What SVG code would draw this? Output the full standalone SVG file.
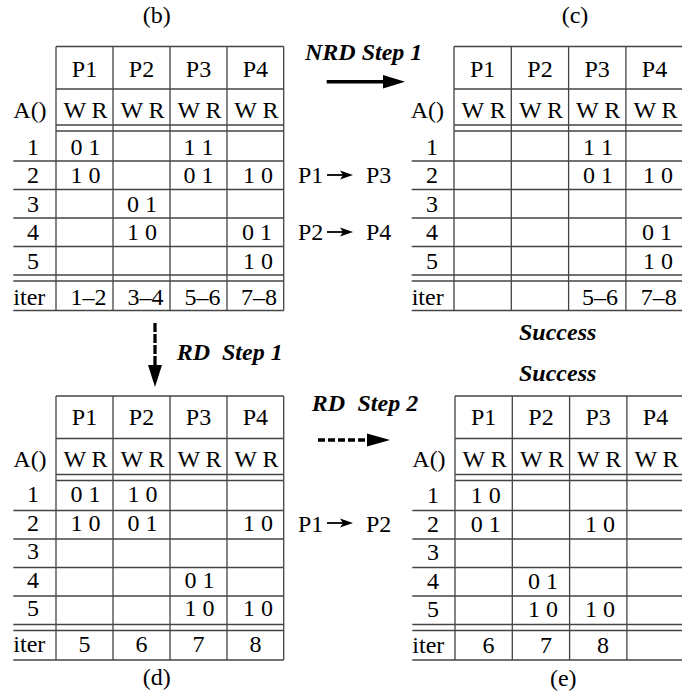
<svg xmlns="http://www.w3.org/2000/svg" width="682" height="698" viewBox="0 0 682 698">
<style>
text{font-family:"Liberation Serif","Times New Roman",serif;font-size:24px;fill:#000}
.c{text-anchor:middle}
.e{text-anchor:end}
.bi{font-weight:bold;font-style:italic}
.ln{stroke:#444;stroke-width:1.3;fill:none}
.ar{stroke:#000;fill:none}
</style>
<rect width="682" height="698" fill="#fff"/>
<g id="table-b">
<path class="ln" d="M56 46.5H283.7M56 89H283.7M56 125H283.7M56 131H283.7M13.3 161H283.7M13.3 189.5H283.7M13.3 218H283.7M13.3 246.5H283.7M13.3 275H283.7M13.3 281H283.7M13.3 310.5H283.7M56 46.5V310.5M113 46.5V310.5M170 46.5V310.5M227 46.5V310.5M283.7 46.5V310.5"/>
<text class="c" x="156.7" y="23">(b)</text>
<text class="c" x="84.5" y="76.5">P1</text><text class="c" x="141.5" y="76.5">P2</text><text class="c" x="198.5" y="76.5">P3</text><text class="c" x="255.4" y="76.5">P4</text>
<text x="13.3" y="117.5">A()</text>
<text class="c" x="85.5" y="117.5">W R</text><text class="c" x="142.5" y="117.5">W R</text><text class="c" x="199.5" y="117.5">W R</text><text class="c" x="256.4" y="117.5">W R</text>
<text class="c" x="33" y="154.5">1</text><text class="c" x="33" y="183">2</text><text class="c" x="33" y="211.5">3</text><text class="c" x="33" y="240">4</text><text class="c" x="33" y="268.5">5</text>
<text x="13.3" y="304.5">iter</text>
<text class="c" x="85.5" y="154.5">0 1</text><text class="c" x="198.5" y="154.5">1 1</text>
<text class="c" x="85.5" y="183">1 0</text><text class="c" x="198.5" y="183">0 1</text><text class="c" x="258" y="183">1 0</text>
<text class="c" x="142" y="211.5">0 1</text>
<text class="c" x="142" y="240">1 0</text><text class="c" x="257" y="240">0 1</text>
<text class="c" x="258" y="268.5">1 0</text>
<text class="e" x="106.5" y="304.5">1–2</text><text class="e" x="163.5" y="304.5">3–4</text><text class="e" x="220.5" y="304.5">5–6</text><text class="e" x="277" y="304.5">7–8</text>
</g>
<g id="table-c">
<path class="ln" d="M454 46.5H683.2M454 89H683.2M454 125H683.2M454 131H683.2M411.7 161H683.2M411.7 189.5H683.2M411.7 218H683.2M411.7 246.5H683.2M411.7 275H683.2M411.7 281H683.2M411.7 310.5H683.2M454 46.5V310.5M511.3 46.5V310.5M568.6 46.5V310.5M625.9 46.5V310.5M683.2 46.5V310.5"/>
<text class="c" x="575" y="23">(c)</text>
<text class="c" x="482.6" y="76.5">P1</text><text class="c" x="540" y="76.5">P2</text><text class="c" x="597.2" y="76.5">P3</text><text class="c" x="654.5" y="76.5">P4</text>
<text x="410.7" y="117.5">A()</text>
<text class="c" x="483.6" y="117.5">W R</text><text class="c" x="541" y="117.5">W R</text><text class="c" x="598.2" y="117.5">W R</text><text class="c" x="655.5" y="117.5">W R</text>
<text class="c" x="432" y="154.5">1</text><text class="c" x="432" y="183">2</text><text class="c" x="432" y="211.5">3</text><text class="c" x="432" y="240">4</text><text class="c" x="432" y="268.5">5</text>
<text x="411.7" y="304.5">iter</text>
<text class="c" x="598" y="154.5">1 1</text>
<text class="c" x="598" y="183">0 1</text><text class="c" x="658" y="183">1 0</text>
<text class="c" x="657" y="240">0 1</text>
<text class="c" x="658" y="268.5">1 0</text>
<text class="e" x="618" y="304.5">5–6</text><text class="e" x="676.7" y="304.5">7–8</text>
<text class="c bi" x="557.7" y="340">Success</text>
</g>
<g id="table-d">
<path class="ln" d="M56 396H283.7M56 438.5H283.7M56 474.5H283.7M56 480.5H283.7M13.3 510.5H283.7M13.3 539H283.7M13.3 567.5H283.7M13.3 596H283.7M13.3 624.5H283.7M13.3 630.5H283.7M13.3 660H283.7M56 396V660M113 396V660M170 396V660M227 396V660M283.7 396V660"/>
<text class="c" x="156.7" y="685">(d)</text>
<text class="c" x="84.5" y="425">P1</text><text class="c" x="141.5" y="425">P2</text><text class="c" x="198.5" y="425">P3</text><text class="c" x="255.4" y="425">P4</text>
<text x="13.3" y="467">A()</text>
<text class="c" x="85.5" y="467">W R</text><text class="c" x="142.5" y="467">W R</text><text class="c" x="199.5" y="467">W R</text><text class="c" x="256.4" y="467">W R</text>
<text class="c" x="33" y="502">1</text><text class="c" x="33" y="530.5">2</text><text class="c" x="33" y="559">3</text><text class="c" x="33" y="587.5">4</text><text class="c" x="33" y="616">5</text>
<text x="13.3" y="652">iter</text>
<text class="c" x="85.5" y="502">0 1</text><text class="c" x="142.5" y="502">1 0</text>
<text class="c" x="85.5" y="530.5">1 0</text><text class="c" x="142.5" y="530.5">0 1</text><text class="c" x="258" y="530.5">1 0</text>
<text class="c" x="199.5" y="587.5">0 1</text>
<text class="c" x="199.5" y="616">1 0</text><text class="c" x="258" y="616">1 0</text>
<text class="c" x="84.5" y="652">5</text><text class="c" x="141.5" y="652">6</text><text class="c" x="198.5" y="652">7</text><text class="c" x="255.4" y="652">8</text>
</g>
<g id="table-e">
<path class="ln" d="M455 396H684.2M455 438.5H684.2M455 474.5H684.2M455 480.5H684.2M412.3 510.5H684.2M412.3 539H684.2M412.3 567.5H684.2M412.3 596H684.2M412.3 624.5H684.2M412.3 630.5H684.2M412.3 660H684.2M455 396V660M512.3 396V660M569.6 396V660M626.9 396V660M684.2 396V660"/>
<text class="c" x="563.3" y="686">(e)</text>
<text class="c bi" x="557.7" y="381">Success</text>
<text class="c" x="483.6" y="425">P1</text><text class="c" x="541" y="425">P2</text><text class="c" x="598.2" y="425">P3</text><text class="c" x="655.5" y="425">P4</text>
<text x="412.3" y="467">A()</text>
<text class="c" x="484.6" y="467">W R</text><text class="c" x="542" y="467">W R</text><text class="c" x="599.2" y="467">W R</text><text class="c" x="656.5" y="467">W R</text>
<text class="c" x="433" y="503">1</text><text class="c" x="433" y="531.5">2</text><text class="c" x="433" y="560">3</text><text class="c" x="433" y="588.5">4</text><text class="c" x="433" y="617">5</text>
<text x="412.3" y="653">iter</text>
<text class="c" x="485.8" y="503">1 0</text>
<text class="c" x="485.8" y="531.5">0 1</text><text class="c" x="600" y="531.5">1 0</text>
<text class="c" x="543" y="588.5">0 1</text>
<text class="c" x="543" y="617">1 0</text><text class="c" x="600" y="617">1 0</text>
<text class="c" x="488.6" y="653">6</text><text class="c" x="546" y="653">7</text><text class="c" x="603" y="653">8</text>
</g>
<g id="connectors">
<line class="ar" x1="326.7" y1="81.7" x2="384" y2="81.7" stroke-width="3.5"/>
<polygon points="383,75 405,81.7 383,88.4" fill="#000"/>
<text class="bi" x="305" y="60">NRD Step 1</text>
<line class="ar" x1="155" y1="323" x2="155" y2="366" stroke-width="3.3" stroke-dasharray="9 2"/>
<polygon points="148,365 162,365 155,387" fill="#000"/>
<text class="bi" x="176.7" y="360">RD</text><text class="bi" x="222" y="360">Step 1</text>
<line class="ar" x1="318" y1="440" x2="368" y2="440" stroke-width="3.5" stroke-dasharray="7 3"/>
<polygon points="367,433.5 390,440 367,446.5" fill="#000"/>
<text class="bi" x="311.7" y="410.5">RD</text><text class="bi" x="357.5" y="410.5">Step 2</text>
<text x="298" y="183">P1</text><text x="366" y="183">P3</text>
<line class="ar" x1="327" y1="175" x2="344" y2="175" stroke-width="1.8"/>
<polygon points="353,175 340,170.5 343,175 340,179.5" fill="#000"/>
<text x="298" y="240">P2</text><text x="366" y="240">P4</text>
<line class="ar" x1="327" y1="232" x2="344" y2="232" stroke-width="1.8"/>
<polygon points="353,232 340,227.5 343,232 340,236.5" fill="#000"/>
<text x="298" y="531.5">P1</text><text x="366" y="531.5">P2</text>
<line class="ar" x1="327" y1="523" x2="344" y2="523" stroke-width="1.8"/>
<polygon points="353,523 340,518.5 343,523 340,527.5" fill="#000"/>
</g>
</svg>
